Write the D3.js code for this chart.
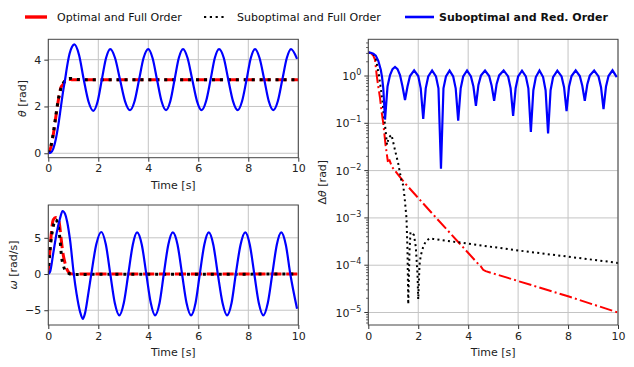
<!DOCTYPE html>
<html>
<head>
<meta charset="utf-8">
<script src="https://cdn.jsdelivr.net/npm/d3@7"></script>
<style>
  body { margin: 0; background: #fff; }
  svg { display: block; font-family: "DejaVu Sans", sans-serif; }
</style>
</head>
<body>
<div id="chart"></div>
<script>
// time axis ticks
var timeTicks = [0, 2, 4, 6, 8, 10];
var thetaTicks = [0, 2, 4];
var omegaTicks = [-5, 0, 5];
var logTicks = [-5, -4, -3, -2, -1, 0];

var legendNames = ["Optimal and Full Order", "Suboptimal and Full Order", "Suboptimal and Red. Order"];

// theta [rad]
var tOptTheta = [0, 0.1, 0.2, 0.3, 0.4, 0.5, 0.6, 0.7, 0.8, 0.9, 1.0, 10];
var optTheta = [0, 0.25, 0.8, 1.55, 2.25, 2.8, 2.95, 3.14, 3.16, 3.15, 3.14, 3.14];
var tSubTheta = [0, 0.1, 0.2, 0.3, 0.4, 0.5, 0.6, 0.7, 0.8, 0.9, 1.1, 1.5, 10];
var subTheta = [0, 0.3, 0.85, 1.6, 2.3, 2.75, 3.0, 3.12, 3.19, 3.2, 3.16, 3.14, 3.14];
var tRedTheta = [0, 0.1, 0.2, 0.3, 0.4, 0.5, 0.6, 0.67, 0.75, 0.85, 0.95, 1.04, 1.23, 1.42, 1.61, 1.8, 1.97,
  2.14, 2.31, 2.48, 2.67, 2.87, 3.07, 3.27, 3.45, 3.63, 3.81, 4.0, 4.17, 4.35, 4.53, 4.71, 4.88,
  5.05, 5.22, 5.39, 5.57, 5.76, 5.95, 6.13, 6.31, 6.49, 6.66, 6.83, 7.02, 7.2, 7.39, 7.58, 7.75,
  7.93, 8.1, 8.27, 8.45, 8.64, 8.82, 9.0, 9.18, 9.36, 9.54, 9.71, 9.95];
var redTheta = [0, 0.03, 0.2, 0.6, 1.2, 1.95, 2.7, 3.14, 3.7, 4.25, 4.55, 4.65, 4.2, 3.14, 2.2, 1.81, 2.2,
  3.14, 4.07, 4.45, 4.07, 3.14, 2.22, 1.84, 2.22, 3.14, 4.07, 4.45, 4.07, 3.14, 2.22, 1.84, 2.22,
  3.14, 4.07, 4.45, 4.07, 3.14, 2.22, 1.84, 2.22, 3.14, 4.07, 4.45, 4.07, 3.14, 2.22, 1.84, 2.22,
  3.14, 4.07, 4.45, 4.07, 3.14, 2.22, 1.84, 2.22, 3.14, 4.07, 4.45, 4.03];

// omega [rad/s]
var tOptOmega = [0, 0.05, 0.1, 0.15, 0.2, 0.3, 0.4, 0.45, 0.5, 0.55, 0.6, 0.67, 0.75, 0.85, 1.0, 10];
var optOmega = [0, 2.5, 4.8, 6.6, 7.5, 7.8, 7.7, 6.8, 5.3, 3.8, 2.6, 1.5, 0.6, 0.15, 0, 0];
var tSubOmega = [0, 0.03, 0.07, 0.13, 0.2, 0.27, 0.33, 0.4, 0.47, 0.53, 0.6, 0.67, 0.8, 0.87, 1.0, 10];
var subOmega = [0, 1.7, 3.3, 5.2, 6.6, 7.5, 7.4, 6.6, 4.7, 2.4, 1.2, 0.55, 0.15, 0, -0.05, 0];
var tRedOmega = [0, 0.07, 0.2, 0.33, 0.47, 0.57, 0.67, 0.75, 0.87, 1.02, 1.13, 1.27, 1.38, 1.47, 1.6, 1.72,
  1.92, 2.12, 2.3, 2.48, 2.66, 2.84, 3.02, 3.2, 3.38, 3.55, 3.74, 3.92, 4.1, 4.27, 4.45, 4.62,
  4.8, 4.98, 5.17, 5.35, 5.53, 5.71, 5.89, 6.06, 6.24, 6.42, 6.6, 6.78, 6.97, 7.15, 7.33, 7.5,
  7.69, 7.88, 8.06, 8.24, 8.42, 8.6, 8.78, 8.96, 9.14, 9.32, 9.5, 9.68, 9.95];
var redOmega = [0, 0.3, 2.9, 5.6, 7.7, 8.7, 8.3, 7.3, 4.7, 0, -2.7, -5.2, -6.2, -5.4, -2.7, 0,
  4.1, 5.8, 4.1, 0, -4.0, -5.7, -4.0, 0, 4.05, 5.75, 4.05, 0, -4.0, -5.7, -4.0, 0,
  4.05, 5.75, 4.05, 0, -4.0, -5.7, -4.0, 0, 4.05, 5.75, 4.05, 0, -4.0, -5.7, -4.0, 0,
  4.05, 5.75, 4.05, 0, -4.0, -5.7, -4.0, 0, 4.05, 5.75, 4.05, 0, -4.8];

// delta theta [rad], log scale
var tOptDelta = [0, 0.1, 0.2, 0.27, 0.34, 0.4, 0.47, 0.53, 0.6, 0.69, 0.78, 0.85, 0.95, 1.2, 1.47, 2.67, 3.6, 4.4, 4.5, 4.6, 4.7, 8.0, 10];
var optDelta = [3.14, 3.05, 2.7, 2.2, 1.0, 0.6, 0.34, 0.18, 0.1, 0.035, 0.016, 0.0165, 0.012, 0.0081, 0.0054, 0.00107, 0.00031, 0.000107, 0.000095, 0.00008, 0.000075, 0.000022, 0.00001];
var tSubDelta = [0, 0.1, 0.2, 0.3, 0.43, 0.5, 0.57, 0.62, 0.67, 0.75, 0.82, 0.93, 1.05, 1.2, 1.33, 1.4, 1.47, 1.53, 1.57, 1.6,
  1.65, 1.69, 1.76, 1.83, 1.9, 1.97, 2.0, 2.05, 2.1, 2.2, 2.3, 2.45, 2.6, 6.0, 10];
var subDelta = [3.14, 3.1, 2.9, 2.4, 1.0, 0.55, 0.29, 0.15, 0.092, 0.035, 0.05, 0.057, 0.03, 0.014, 0.006, 0.0049, 0.0022, 0.00098, 0.0002, 0.000015,
  0.0002, 0.0005, 0.00048, 0.00043, 0.00025, 0.000066, 0.000019, 0.0001, 0.00016, 0.000245, 0.00032, 0.00037, 0.00036, 0.000205, 0.000112];
var tRedDelta = [0, 0.1, 0.2, 0.3, 0.4, 0.5, 0.55, 0.6, 0.67,
  0.77, 0.87, 0.97, 1.07, 1.17, 1.27, 1.37, 1.47,
  1.57, 1.67, 1.835, 2.0, 2.1, 2.2,
  2.3, 2.4, 2.555, 2.71, 2.81, 2.91,
  3.01, 3.11, 3.255, 3.4, 3.5, 3.6,
  3.7, 3.8, 3.955, 4.11, 4.21, 4.31,
  4.41, 4.51, 4.675, 4.84, 4.94, 5.04,
  5.14, 5.24, 5.42, 5.6, 5.7, 5.8,
  5.9, 6.0, 6.155, 6.31, 6.41, 6.51,
  6.61, 6.71, 6.855, 7.0, 7.1, 7.2,
  7.3, 7.4, 7.57, 7.74, 7.84, 7.94,
  8.04, 8.14, 8.305, 8.47, 8.57, 8.67,
  8.77, 8.87, 9.045, 9.22, 9.32, 9.42,
  9.52, 9.62, 9.78, 9.95];
var redDelta = [3.14, 3.1, 2.95, 2.7, 2.1, 1.35, 0.95, 0.55, 0.12,
  0.6, 1.05, 1.4, 1.55, 1.4, 1.05, 0.6, 0.31,
  0.6, 1.0, 1.32, 1.0, 0.55, 0.124,
  0.55, 0.98, 1.31, 0.98, 0.55, 0.011,
  0.55, 0.98, 1.3, 0.98, 0.55, 0.114,
  0.55, 0.98, 1.31, 0.98, 0.6, 0.235,
  0.65, 1.02, 1.3, 1.0, 0.62, 0.30,
  0.68, 1.03, 1.31, 0.98, 0.55, 0.144,
  0.55, 0.98, 1.3, 0.98, 0.55, 0.066,
  0.5, 0.95, 1.31, 0.95, 0.5, 0.061,
  0.5, 0.95, 1.3, 0.98, 0.58, 0.18,
  0.6, 1.0, 1.31, 1.0, 0.62, 0.30,
  0.66, 1.02, 1.3, 0.98, 0.58, 0.2,
  0.6, 1.0, 1.32, 0.95];

var W = 634, H = 367;
var svg = d3.select("#chart").append("svg").attr("width", W).attr("height", H);

var xTheta = d3.scaleLinear().domain([0, 10]).range([48.3, 298.3]);
var yTheta = d3.scaleLinear().domain([-0.19, 4.87]).range([157.7, 39.3]);
var xOmega = d3.scaleLinear().domain([0, 10]).range([48.3, 298.3]);
var yOmega = d3.scaleLinear().domain([-7.04, 9.53]).range([325, 205]);
var xDelta = d3.scaleLinear().domain([0, 10]).range([368.3, 618]);
var yDelta = d3.scaleLog().domain([Math.pow(10, -5.264), Math.pow(10, 0.776)]).range([325, 39.3]);

var zip = function (ts, vs) { return ts.map(function (t, i) { return [t, vs[i]]; }); };
var fmtMinus = function (v) { return String(v).replace("-", "\u2212"); };

var panel = function (id, x, y) {
  var x0 = x.range()[0], x1 = x.range()[1], y0 = y.range()[1], y1 = y.range()[0];
  var g = svg.append("g");
  svg.append("defs").append("clipPath").attr("id", id)
    .append("rect").attr("x", x0).attr("y", y0).attr("width", x1 - x0).attr("height", y1 - y0);
  return { g: g, x: x, y: y, x0: x0, x1: x1, y0: y0, y1: y1, clip: "url(#" + id + ")" };
};

var drawGridAndX = function (p, yVals) {
  p.g.selectAll(".gx").data(timeTicks).enter().append("line")
    .attr("x1", d => p.x(d)).attr("x2", d => p.x(d)).attr("y1", p.y0).attr("y2", p.y1)
    .attr("stroke", "#c4c4c4").attr("stroke-width", 1);
  p.g.selectAll(".gy").data(yVals).enter().append("line")
    .attr("x1", p.x0).attr("x2", p.x1).attr("y1", d => p.y(d)).attr("y2", d => p.y(d))
    .attr("stroke", "#c4c4c4").attr("stroke-width", 1);
  var ax = p.g.append("g").attr("transform", "translate(0," + p.y1 + ")")
    .call(d3.axisBottom(p.x).tickValues(timeTicks).tickSize(4).tickPadding(3).tickFormat(d3.format("d")));
  ax.select(".domain").remove();
  ax.selectAll("line").attr("stroke", "#333");
  ax.selectAll("text").attr("font-size", 11).attr("fill", "#222").attr("font-family", "DejaVu Sans");
  p.g.append("text").attr("x", (p.x0 + p.x1) / 2).attr("y", p.y1 + 31)
    .attr("text-anchor", "middle").attr("font-size", 11).attr("fill", "#222").text("Time [s]");
};

var drawFrame = function (p) {
  p.g.append("rect").attr("x", p.x0).attr("y", p.y0).attr("width", p.x1 - p.x0).attr("height", p.y1 - p.y0)
    .attr("fill", "none").attr("stroke", "#444").attr("stroke-width", 1);
};

var drawLine = function (p, data, color, width, dash, curve) {
  p.g.append("path").datum(data)
    .attr("clip-path", p.clip)
    .attr("fill", "none").attr("stroke", color).attr("stroke-width", width)
    .attr("stroke-dasharray", dash)
    .attr("d", d3.line().x(d => p.x(d[0])).y(d => p.y(d[1])).curve(curve));
};

var yLabel = function (p, cx, parts) {
  var t = p.g.append("text").attr("transform", "translate(" + cx + "," + ((p.y0 + p.y1) / 2) + ") rotate(-90)")
    .attr("text-anchor", "middle").attr("font-size", 11).attr("fill", "#222");
  parts.forEach(function (s) {
    t.append("tspan").attr("font-style", s[1] ? "italic" : null).text(s[0]);
  });
};

// theta panel
var pT = panel("clipT", xTheta, yTheta);
drawGridAndX(pT, thetaTicks);
var axT = pT.g.append("g").attr("transform", "translate(" + pT.x0 + ",0)")
  .call(d3.axisLeft(yTheta).tickValues(thetaTicks).tickSize(4).tickPadding(3).tickFormat(fmtMinus));
axT.select(".domain").remove();
axT.selectAll("line").attr("stroke", "#333");
axT.selectAll("text").attr("font-size", 11).attr("fill", "#222").attr("font-family", "DejaVu Sans");
yLabel(pT, 26, [["\u03b8", true], [" [rad]", false]]);
drawLine(pT, zip(tOptTheta, optTheta), "#ff0000", 3, "11.1,4.8", d3.curveMonotoneX);
drawLine(pT, zip(tSubTheta, subTheta), "#000", 3, "3,4.95", d3.curveMonotoneX);
drawLine(pT, zip(tRedTheta, redTheta), "#0000ff", 2.2, null, d3.curveMonotoneX);
drawFrame(pT);

// omega panel
var pO = panel("clipO", xOmega, yOmega);
drawGridAndX(pO, omegaTicks);
var axO = pO.g.append("g").attr("transform", "translate(" + pO.x0 + ",0)")
  .call(d3.axisLeft(yOmega).tickValues(omegaTicks).tickSize(4).tickPadding(3).tickFormat(fmtMinus));
axO.select(".domain").remove();
axO.selectAll("line").attr("stroke", "#333");
axO.selectAll("text").attr("font-size", 11).attr("fill", "#222").attr("font-family", "DejaVu Sans");
yLabel(pO, 17, [["\u03c9", true], [" [rad/s]", false]]);
drawLine(pO, zip(tOptOmega, optOmega), "#ff0000", 3, "11.1,4.8", d3.curveMonotoneX);
drawLine(pO, zip(tSubOmega, subOmega), "#000", 3, "3,4.95", d3.curveMonotoneX);
drawLine(pO, zip(tRedOmega, redOmega), "#0000ff", 2.2, null, d3.curveMonotoneX);
drawFrame(pO);

// delta theta panel (log)
var pD = panel("clipD", xDelta, yDelta);
drawGridAndX(pD, logTicks.map(e => Math.pow(10, e)));
var minor = [];
for (var e = -6; e <= 0; e++) {
  for (var m = 2; m <= 9; m++) {
    var v = m * Math.pow(10, e);
    if (v > yDelta.domain()[0] && v < yDelta.domain()[1]) minor.push(v);
  }
}
pD.g.selectAll(".mt").data(minor).enter().append("line")
  .attr("x1", pD.x0 - 2.2).attr("x2", pD.x0).attr("y1", d => yDelta(d)).attr("y2", d => yDelta(d))
  .attr("stroke", "#333").attr("stroke-width", 0.8);
logTicks.forEach(function (e) {
  var yy = yDelta(Math.pow(10, e));
  pD.g.append("line").attr("x1", pD.x0 - 4).attr("x2", pD.x0).attr("y1", yy).attr("y2", yy)
    .attr("stroke", "#333");
  var t = pD.g.append("text").attr("x", pD.x0 - 7).attr("y", yy + 4)
    .attr("text-anchor", "end").attr("font-size", 11).attr("fill", "#222");
  t.append("tspan").text("10");
  t.append("tspan").attr("dy", -5).attr("font-size", 8).text(fmtMinus(e));
});
yLabel(pD, 326, [["\u0394", false], ["\u03b8", true], [" [rad]", false]]);
drawLine(pD, zip(tOptDelta, optDelta), "#ff0000", 2, "12.8,3.2,2,3.2", d3.curveLinear);
drawLine(pD, zip(tSubDelta, subDelta), "#000", 2, "2,3.3", d3.curveLinear);
drawLine(pD, zip(tRedDelta, redDelta), "#0000ff", 2.2, null, d3.curveLinear);
drawFrame(pD);

// legend
var leg = svg.append("g").attr("font-size", 11).attr("fill", "#111");
leg.append("line").attr("x1", 25).attr("x2", 47).attr("y1", 17).attr("y2", 17)
  .attr("stroke", "#ff0000").attr("stroke-width", 3.4);
leg.append("text").attr("x", 57).attr("y", 21).text(legendNames[0]);
leg.append("line").attr("x1", 204).attr("x2", 227).attr("y1", 17).attr("y2", 17)
  .attr("stroke", "#000").attr("stroke-width", 2.2).attr("stroke-dasharray", "2.2,3.6");
leg.append("text").attr("x", 237).attr("y", 21).text(legendNames[1]);
leg.append("line").attr("x1", 405).attr("x2", 434).attr("y1", 17).attr("y2", 17)
  .attr("stroke", "#0000ff").attr("stroke-width", 2.6);
leg.append("text").attr("x", 439).attr("y", 21).attr("font-weight", "bold").text(legendNames[2]);
</script>
</body>
</html>
